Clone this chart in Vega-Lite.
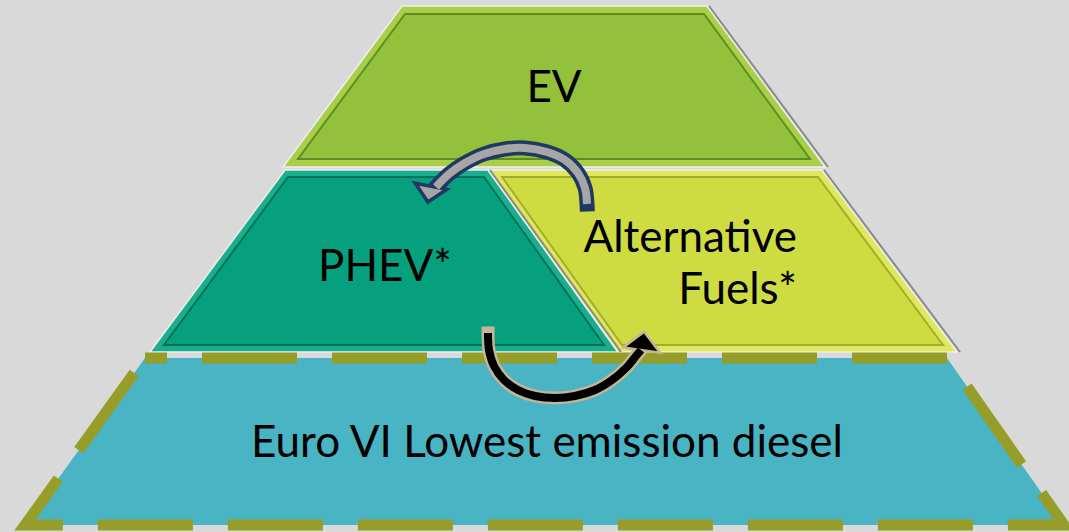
{
  "$schema": "https://vega.github.io/schema/vega-lite/v6.json",
  "width": 1069,
  "height": 532,
  "autosize": {"type": "none"},
  "padding": 0,
  "background": "#d9d9d9",
  "config": {"view": {"stroke": null}},
  "datasets": {
    "outer": [
      {"part": "EV", "y": 6, "xl": 402, "xr": 707},
      {"part": "EV", "y": 167, "xl": 283, "xr": 825},
      {"part": "PHEV", "y": 170, "xl": 285, "xr": 488},
      {"part": "PHEV", "y": 352, "xl": 150, "xr": 618},
      {"part": "Alt", "y": 170, "xl": 488, "xr": 822},
      {"part": "Alt", "y": 352, "xl": 618, "xr": 957}
    ],
    "inner": [
      {"part": "EV in", "y": 14, "xl": 405, "xr": 704},
      {"part": "EV in", "y": 159, "xl": 298, "xr": 810},
      {"part": "PHEV in", "y": 177, "xl": 288, "xr": 484},
      {"part": "PHEV in", "y": 345, "xl": 164, "xr": 604},
      {"part": "Alt in", "y": 177, "xl": 502, "xr": 818},
      {"part": "Alt in", "y": 345, "xl": 622, "xr": 943}
    ],
    "shadow": [
      {"seg": "EV", "x": 709, "y": 6},
      {"seg": "EV", "x": 828, "y": 167},
      {"seg": "PHEV", "x": 490, "y": 170},
      {"seg": "PHEV", "x": 621, "y": 352},
      {"seg": "Alt", "x": 824, "y": 170},
      {"seg": "Alt", "x": 960, "y": 352}
    ],
    "base": [
      {"part": "Euro", "y": 358, "xl": 145, "xr": 947},
      {"part": "Euro", "y": 525, "xl": 25, "xr": 1064}
    ],
    "baseEdge": [
      {"o": 1, "x": 145, "y": 358},
      {"o": 2, "x": 947, "y": 358},
      {"o": 3, "x": 1064, "y": 525},
      {"o": 4, "x": 25, "y": 525},
      {"o": 5, "x": 145, "y": 358}
    ],
    "arrowTop": [
      {"o": 1, "x": 587, "y": 204},
      {"o": 2, "x": 585, "y": 188},
      {"o": 3, "x": 578, "y": 173},
      {"o": 4, "x": 565, "y": 160},
      {"o": 5, "x": 547, "y": 152},
      {"o": 6, "x": 525, "y": 148},
      {"o": 7, "x": 505, "y": 149},
      {"o": 8, "x": 484, "y": 154},
      {"o": 9, "x": 465, "y": 163},
      {"o": 10, "x": 449, "y": 174},
      {"o": 11, "x": 436, "y": 187}
    ],
    "arrowBot": [
      {"o": 1, "x": 488, "y": 333},
      {"o": 2, "x": 489, "y": 350},
      {"o": 3, "x": 494, "y": 366},
      {"o": 4, "x": 504, "y": 380},
      {"o": 5, "x": 518, "y": 390},
      {"o": 6, "x": 535, "y": 396},
      {"o": 7, "x": 555, "y": 398},
      {"o": 8, "x": 575, "y": 396},
      {"o": 9, "x": 595, "y": 390},
      {"o": 10, "x": 612, "y": 380},
      {"o": 11, "x": 626, "y": 368},
      {"o": 12, "x": 636, "y": 356},
      {"o": 13, "x": 641, "y": 350}
    ],
    "headTop": [{"x": 429.6, "y": 193.4}],
    "headBot": [{"x": 642.7, "y": 341.8}],
    "labelsCenter": [
      {"label": "EV", "x": 554, "y": 102},
      {"label": "PHEV*", "x": 385, "y": 281},
      {"label": "Euro VI Lowest emission diesel", "x": 547, "y": 457}
    ],
    "labelsRight": [
      {"label": "Alternative", "x": 797, "y": 252},
      {"label": "Fuels*", "x": 797, "y": 304}
    ]
  },
  "layer": [
    {
      "data": {"name": "base"},
      "mark": {"type": "area", "orient": "horizontal", "fill": "#49b4c4"},
      "encoding": {
        "y": {"field": "y", "type": "quantitative", "scale": {"domain": [0, 532], "reverse": true, "nice": false, "zero": false}, "axis": null},
        "x": {"field": "xl", "type": "quantitative", "stack": null, "scale": {"domain": [0, 1069], "nice": false, "zero": false}, "axis": null},
        "x2": {"field": "xr"}
      }
    },
    {
      "data": {"name": "outer"},
      "mark": {"type": "area", "orient": "horizontal", "stroke": "#eeeeee", "strokeWidth": 1.5},
      "encoding": {
        "y": {"field": "y", "type": "quantitative", "axis": null},
        "x": {"field": "xl", "type": "quantitative", "stack": null, "axis": null},
        "x2": {"field": "xr"},
        "fill": {"field": "part", "type": "nominal", "legend": null,
          "scale": {"domain": ["EV", "PHEV", "Alt", "EV in", "PHEV in", "Alt in"],
                    "range": ["#a9cf49", "#1aae8f", "#dfe85a", "#93c13b", "#06a07f", "#cfdc41"]}}
      }
    },
    {
      "data": {"name": "shadow"},
      "mark": {"type": "line", "color": "#8a8a8a", "strokeWidth": 2},
      "encoding": {
        "x": {"field": "x", "type": "quantitative", "axis": null},
        "y": {"field": "y", "type": "quantitative", "axis": null},
        "detail": {"field": "seg", "type": "nominal"}
      }
    },
    {
      "data": {"name": "inner"},
      "mark": {"type": "area", "orient": "horizontal", "strokeWidth": 2},
      "encoding": {
        "y": {"field": "y", "type": "quantitative", "axis": null},
        "x": {"field": "xl", "type": "quantitative", "stack": null, "axis": null},
        "x2": {"field": "xr"},
        "fill": {"field": "part", "type": "nominal", "legend": null},
        "stroke": {"field": "part", "type": "nominal", "legend": null,
          "scale": {"domain": ["EV in", "PHEV in", "Alt in"], "range": ["#5f8d25", "#05725a", "#a3ad2c"]}}
      }
    },
    {
      "data": {"name": "baseEdge"},
      "mark": {"type": "line", "color": "#979d29", "strokeWidth": 11, "strokeDash": [95, 35], "strokeDashOffset": 73},
      "encoding": {
        "x": {"field": "x", "type": "quantitative", "axis": null},
        "y": {"field": "y", "type": "quantitative", "axis": null},
        "order": {"field": "o", "type": "quantitative"}
      }
    },
    {
      "data": {"name": "arrowTop"},
      "mark": {"type": "line", "color": "#1f3864", "strokeWidth": 15, "interpolate": "cardinal", "strokeCap": "square"},
      "encoding": {
        "x": {"field": "x", "type": "quantitative", "axis": null},
        "y": {"field": "y", "type": "quantitative", "axis": null},
        "order": {"field": "o", "type": "quantitative"}
      }
    },
    {
      "data": {"name": "headTop"},
      "mark": {"type": "point", "shape": "M-1,-0.45L1,-0.45L0,0.55Z", "filled": true, "fill": "#a6a6a6", "stroke": "#1f3864", "strokeWidth": 3.5, "size": 1024, "angle": 11, "opacity": 1},
      "encoding": {
        "x": {"field": "x", "type": "quantitative", "axis": null},
        "y": {"field": "y", "type": "quantitative", "axis": null}
      }
    },
    {
      "data": {"name": "arrowTop"},
      "mark": {"type": "line", "color": "#a6a6a6", "strokeWidth": 8, "interpolate": "cardinal"},
      "encoding": {
        "x": {"field": "x", "type": "quantitative", "axis": null},
        "y": {"field": "y", "type": "quantitative", "axis": null},
        "order": {"field": "o", "type": "quantitative"}
      }
    },
    {
      "data": {"name": "arrowBot"},
      "mark": {"type": "line", "color": "#c4b597", "strokeWidth": 13, "interpolate": "cardinal", "strokeCap": "square"},
      "encoding": {
        "x": {"field": "x", "type": "quantitative", "axis": null},
        "y": {"field": "y", "type": "quantitative", "axis": null},
        "order": {"field": "o", "type": "quantitative"}
      }
    },
    {
      "data": {"name": "headBot"},
      "mark": {"type": "point", "shape": "M-1,0.45L1,0.45L0,-0.55Z", "filled": true, "fill": "#000000", "stroke": "#c4b597", "strokeWidth": 2.5, "size": 1369, "angle": 8, "opacity": 1},
      "encoding": {
        "x": {"field": "x", "type": "quantitative", "axis": null},
        "y": {"field": "y", "type": "quantitative", "axis": null}
      }
    },
    {
      "data": {"name": "arrowBot"},
      "mark": {"type": "line", "color": "#000000", "strokeWidth": 8, "interpolate": "cardinal"},
      "encoding": {
        "x": {"field": "x", "type": "quantitative", "axis": null},
        "y": {"field": "y", "type": "quantitative", "axis": null},
        "order": {"field": "o", "type": "quantitative"}
      }
    },
    {
      "data": {"name": "labelsCenter"},
      "mark": {"type": "text", "font": "Lato", "fontSize": 44, "align": "center", "baseline": "alphabetic", "color": "#000000"},
      "encoding": {
        "x": {"field": "x", "type": "quantitative", "axis": null},
        "y": {"field": "y", "type": "quantitative", "axis": null},
        "text": {"field": "label"}
      }
    },
    {
      "data": {"name": "labelsRight"},
      "mark": {"type": "text", "font": "Lato", "fontSize": 44, "align": "right", "baseline": "alphabetic", "color": "#000000"},
      "encoding": {
        "x": {"field": "x", "type": "quantitative", "axis": null},
        "y": {"field": "y", "type": "quantitative", "axis": null},
        "text": {"field": "label"}
      }
    }
  ]
}
